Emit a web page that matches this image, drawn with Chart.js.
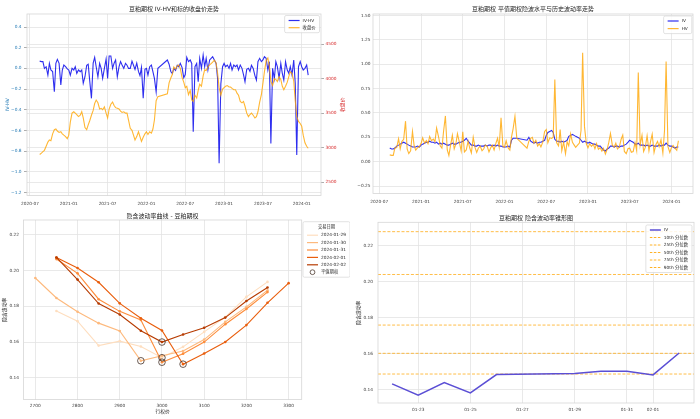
<!DOCTYPE html>
<html>
<head>
<meta charset="utf-8">
<script src="https://cdn.jsdelivr.net/npm/chart.js@4.4.1/dist/chart.umd.min.js"></script>
<style>
  html, body { margin: 0; padding: 0; background: #fff; }
  #wrap { position: relative; width: 700px; height: 419px; overflow: hidden; }
  canvas { position: absolute; }
</style>
</head>
<body>
<div id="wrap">
  <canvas id="cTL" width="350" height="212" style="left:0;top:0;width:350px;height:212px"></canvas>
  <canvas id="cTR" width="350" height="212" style="left:350px;top:0;width:350px;height:212px"></canvas>
  <canvas id="cBL" width="350" height="213" style="left:0;top:206px;width:350px;height:213px"></canvas>
  <canvas id="cBR" width="350" height="213" style="left:350px;top:206px;width:350px;height:213px"></canvas>
</div>
<script>
// ---- DATA: daily series (sampled), top charts ----
const dates = [
  '2020-08-16', '2020-08-24',
  '2020-09-01', '2020-09-08', '2020-09-16', '2020-09-24', '2020-10-01', '2020-10-08', '2020-10-16', '2020-10-24',
  '2020-11-01', '2020-11-08', '2020-11-16', '2020-11-24', '2020-12-01', '2020-12-08', '2020-12-16', '2020-12-24',
  '2021-01-01', '2021-01-08', '2021-01-16', '2021-01-24', '2021-02-01', '2021-02-08', '2021-02-16', '2021-02-24',
  '2021-03-01', '2021-03-08', '2021-03-16', '2021-03-24', '2021-04-01', '2021-04-08', '2021-04-16', '2021-04-24',
  '2021-05-01', '2021-05-08', '2021-05-16', '2021-05-24', '2021-06-01', '2021-06-08', '2021-06-16', '2021-06-24',
  '2021-07-01', '2021-07-08', '2021-07-16', '2021-07-24', '2021-08-01', '2021-08-08', '2021-08-16', '2021-08-24',
  '2021-09-01', '2021-09-08', '2021-09-16', '2021-09-24', '2021-10-01', '2021-10-08', '2021-10-16', '2021-10-24',
  '2021-11-01', '2021-11-08', '2021-11-16', '2021-11-24', '2021-12-01', '2021-12-08', '2021-12-16', '2021-12-24',
  '2022-01-01', '2022-01-08', '2022-01-16', '2022-01-24', '2022-02-01', '2022-02-08', '2022-02-16', '2022-02-24',
  '2022-04-08', '2022-04-16', '2022-04-24', '2022-05-01', '2022-05-08', '2022-05-16', '2022-05-24',
  '2022-06-01', '2022-06-08', '2022-06-16', '2022-06-24', '2022-07-01', '2022-07-08', '2022-07-16', '2022-07-24',
  '2022-08-01', '2022-08-08', '2022-08-16', '2022-08-24', '2022-09-01', '2022-09-08', '2022-09-16', '2022-09-24',
  '2022-10-01', '2022-10-08', '2022-10-16', '2022-10-24', '2022-11-01', '2022-11-08', '2022-11-16', '2022-11-24',
  '2022-12-01', '2022-12-08', '2022-12-16', '2022-12-24',
  '2023-01-01', '2023-01-08', '2023-01-16', '2023-01-24', '2023-02-01', '2023-02-08', '2023-02-16', '2023-02-24',
  '2023-03-01', '2023-03-08', '2023-03-16', '2023-03-24', '2023-04-01', '2023-04-08', '2023-04-16', '2023-04-24',
  '2023-05-01', '2023-05-08', '2023-05-16', '2023-05-24', '2023-06-01', '2023-06-08', '2023-06-16', '2023-06-24',
  '2023-07-01', '2023-07-08', '2023-07-16', '2023-07-24', '2023-08-01', '2023-08-08', '2023-08-16', '2023-08-24',
  '2023-09-01', '2023-09-08', '2023-09-16', '2023-09-24', '2023-10-01', '2023-10-08', '2023-10-16', '2023-10-24',
  '2023-11-01', '2023-11-08', '2023-11-16', '2023-11-24', '2023-12-01', '2023-12-08', '2023-12-16', '2023-12-24',
  '2024-01-01', '2024-01-08', '2024-01-16', '2024-01-24', '2024-02-01'
];

const ivData = [
  0.14, 0.13,
  0.13, 0.14, 0.16, 0.17,  0.18, 0.19, 0.20, 0.19,
  0.18, 0.17, 0.16, 0.15,  0.15, 0.15, 0.16, 0.15,
  0.17, 0.18, 0.19, 0.20,  0.20, 0.21, 0.20, 0.20,
  0.19, 0.20, 0.18, 0.19,  0.18, 0.19, 0.18, 0.17,
  0.17, 0.18, 0.19, 0.18,  0.18, 0.19, 0.20, 0.20,
  0.21, 0.22, 0.24, 0.21,  0.19, 0.17, 0.17, 0.16,
  0.16, 0.17, 0.16, 0.16,  0.16, 0.17, 0.16, 0.17,
  0.17, 0.16, 0.17, 0.16,  0.17, 0.16, 0.16, 0.15,
  0.15, 0.15, 0.16, 0.15,  0.22, 0.24, 0.24, 0.24,
  0.22, 0.25, 0.21,        0.20, 0.19, 0.20, 0.19,
  0.20, 0.20, 0.21, 0.22,  0.27, 0.30, 0.31, 0.32,
  0.30, 0.23, 0.21, 0.21,  0.20, 0.21, 0.20, 0.21,
  0.22, 0.26, 0.27, 0.28,  0.27, 0.26, 0.25, 0.24,
  0.22, 0.20, 0.21, 0.20,
  0.19, 0.20, 0.19, 0.18,  0.18, 0.17, 0.16, 0.16,
  0.14, 0.12, 0.11, 0.13,  0.14, 0.16, 0.16, 0.15,
  0.16, 0.16, 0.15, 0.16,  0.16, 0.17, 0.18, 0.20,
  0.22, 0.21, 0.20, 0.18,  0.18, 0.19, 0.17, 0.17,
  0.17, 0.16, 0.17, 0.16,  0.16, 0.17, 0.16, 0.16,
  0.16, 0.17, 0.16, 0.17,  0.17, 0.19, 0.17, 0.16,
  0.16, 0.15, 0.14, 0.15,  0.15
];

const hvData = [
  0.070, 0.065,
  0.065, 0.140, 0.144, 0.235,  0.132, 0.206, 0.230, 0.416,
  0.132, 0.083, 0.112, 0.311,  0.166, 0.118, 0.144, 0.155,
  0.186, 0.245, 0.190, 0.216,  0.184, 0.258, 0.216, 0.232,
  0.206, 0.345, 0.261, 0.160,  0.140, 0.310, 0.470, 0.120,
  0.064, 0.164, 0.271, 0.132,  0.180, 0.287, 0.200, 0.110,
  0.307, 0.100, 0.120, 0.210,  0.140, 0.089, 0.251, 0.144,
  0.095, 0.138, 0.160, 0.112,  0.130, 0.170, 0.160, 0.100,
  0.140, 0.170, 0.120, 0.190,  0.240, 0.150, 0.450, 0.160,
  0.150, 0.215, 0.144, 0.118,  0.252, 0.337, 0.466, 0.240,
  0.139, 0.210, 0.240,         0.250, 0.190, 0.220, 0.160,
  0.184, 0.152, 0.200, 0.310,  0.330, 0.194, 0.245, 0.239,
  0.252, 0.843, 0.194, 0.162,  0.329, 0.113, 0.200, 0.081,
  0.204, 0.163, 0.286, 0.199,  0.173, 0.147, 0.169, 0.192,
  0.320, 1.119, 0.360, 0.184,
  0.142, 0.184, 0.158, 0.180,  0.132, 0.186, 0.128, 0.144,
  0.108, 0.136, 0.078, 0.130,  0.200, 0.289, 0.170, 0.150,
  0.190, 0.130, 0.150, 0.230,  0.273, 0.105, 0.083, 0.135,
  0.139, 0.097, 0.103, 0.196,  0.115, 0.916, 0.170, 0.270,
  0.105, 0.144, 0.267, 0.112,  0.208, 0.283, 0.095, 0.176,
  0.208, 0.154, 0.225, 0.089,  0.315, 1.029, 0.154, 0.095,
  0.144, 0.166, 0.140, 0.118,  0.215
];

const closeData = [
  2900, 2920,
  2940, 2960, 3020, 3080,  3110, 3100, 3200, 3260,
  3270, 3240, 3220, 3230,  3200, 3180, 3160, 3130,
  3180, 3370, 3500, 3520,  3500, 3480, 3450, 3470,
  3520, 3430, 3290, 3260,  3330, 3390, 3470, 3540,
  3640, 3690, 3650, 3560,  3570, 3550, 3590, 3500,
  3430, 3560, 3630, 3660,  3610, 3580, 3570, 3560,
  3530, 3510, 3520, 3500,  3500, 3400, 3280, 3250,
  3180, 3110, 3160, 3230,  3160, 3090, 3150, 3200,
  3230, 3190, 3230, 3210,  3270, 3400, 3680, 3740,
  3780, 3940, 4010,        4060, 4170, 4140, 4190,
  4200, 4150, 4020, 3950,  3870, 3890, 3770, 3830,
  3690, 3670, 3760, 3720,  3830, 3920, 3890, 4040,
  4130, 4120, 4170, 4200,  4220, 4240, 4270, 4230,
  4080, 3870, 3760, 3850,
  3870, 3890, 3900, 3880,  3880, 3860, 3840, 3840,
  3790, 3760, 3670, 3650,  3670, 3600, 3500, 3450,
  3480, 3500, 3470, 3430,  3450, 3520, 3660, 3770,
  3930, 4100, 4260, 4300,  4180, 3960, 3900, 4000,
  3990, 3960, 4030, 3990,  3890, 3840, 3890, 3950,
  4030, 4100, 4080, 3970,  3680, 3450, 3380, 3350,
  3310, 3180, 3070, 3020,  2990
];

const dateTickLabels = ['2020-07', '2021-01', '2021-07', '2022-01', '2022-07', '2023-01', '2023-07', '2024-01'];
const ivhvTicks = [-1.2, -1.0, -0.8, -0.6, -0.4, -0.2, 0.0, 0.2, 0.4];
const closeTicks = [2500, 3000, 3500, 4000, 4500];
const volTicks = [-0.25, 0.0, 0.25, 0.5, 0.75, 1.0, 1.25, 1.5];

// ---- DATA: smile (bottom left) ----
const smileDates = ['2024-01-29', '2024-01-30', '2024-01-31', '2024-02-01', '2024-02-02'];
const smileStrikes = [
  [2750, 2800, 2850, 2900, 2950, 3000, 3050, 3100, 3150, 3200, 3250],
  [2700, 2750, 2800, 2850, 2900, 2950, 3000, 3050, 3100, 3150, 3200, 3250],
  [2750, 2800, 2850, 2900, 2950, 3000, 3050, 3100, 3150, 3200, 3250],
  [2750, 2800, 2850, 2900, 2950, 3000, 3050, 3100, 3150, 3200, 3250, 3300],
  [2750, 2800, 2850, 2900, 2950, 3000, 3050, 3100, 3150, 3200, 3250]
];
const smileIV = [
  [0.1774, 0.1717, 0.1580, 0.1605, 0.1575, 0.1512, 0.1573, 0.1657, 0.1740, 0.1853, 0.1937],
  [0.1959, 0.1847, 0.1770, 0.1706, 0.1662, 0.1495, 0.1523, 0.1550, 0.1614, 0.1713, 0.1797, 0.1890],
  [0.2065, 0.1985, 0.1840, 0.1772, 0.1724, 0.1487, 0.1535, 0.1600, 0.1700, 0.1785, 0.1880],
  [0.2074, 0.2015, 0.1935, 0.1817, 0.1733, 0.1665, 0.1476, 0.1536, 0.1600, 0.1695, 0.1820, 0.1930],
  [0.2074, 0.1950, 0.1816, 0.1754, 0.1663, 0.1600, 0.1642, 0.1680, 0.1737, 0.1830, 0.1906]
];
const atmStrike = [3000, 2950, 3000, 3050, 3000];
const strikeTicks = [2700, 2800, 2900, 3000, 3100, 3200, 3300];
const smileTicks = [0.14, 0.16, 0.18, 0.20, 0.22];

// ---- DATA: IV cone (bottom right) ----
const coneDates = ['2024-01-22', '2024-01-23', '2024-01-24', '2024-01-25', '2024-01-26',
                   '2024-01-29', '2024-01-30', '2024-01-31', '2024-02-01', '2024-02-02'];
const coneIV = [0.1432, 0.1369, 0.1439, 0.1382, 0.1484, 0.1490, 0.1502, 0.1502, 0.1482, 0.1604];
const quantLabels = ['10th 分位数', '25th 分位数', '50th 分位数', '75th 分位数', '90th 分位数'];
const quantValues = [0.1487, 0.1602, 0.1759, 0.2040, 0.2278];
const coneTickLabels = ['01-23', '01-25', '01-27', '01-29', '01-31', '02-01'];
const coneYTicks = [0.14, 0.16, 0.18, 0.20, 0.22];

// ---- helpers ----
const FONT = "'DejaVu Sans', 'Noto Sans CJK SC', sans-serif";
Chart.defaults.font.family = FONT;
Chart.defaults.font.size = 4.3;
Chart.defaults.color = '#3a3a3a';

const toMonth = s => { const [y, m, d] = s.split('-').map(Number); return (y - 2020) * 12 + (m - 1) + (d - 1) / 30; };
const toDay = s => { const [y, m, d] = s.split('-').map(Number); return (Date.UTC(y, m - 1, d) - Date.UTC(2024, 0, 0)) / 864e5; };
const fmt = (v, n) => (v < -1e-9 ? '\u2212' : '') + Math.abs(v).toFixed(n);
const series = vals => dates.map((d, i) => ({ x: toMonth(d), y: vals[i] }));
const fixedTicks = values => scale => { scale.ticks = values.map(v => ({ value: v })); };
const grid = extra => Object.assign({ color: '#e3e3e3', lineWidth: 0.8, drawTicks: false }, extra || {});

const ivhvData = ivData.map((v, i) => v - hvData[i]);

const BLUE = 'rgba(0,0,235,0.82)';
const ORANGE = 'rgba(255,165,0,0.8)';
const smileColors = ['#fedebf', '#fdb97d', '#fd8d3c', '#e95e0d', '#b73c02'];

function drawLegend(ctx, a, L) {
  const row = L.row || 7.4;
  ctx.font = `4.3px ${FONT}`;
  const textW = Math.max(...L.items.map(it => ctx.measureText(it.label).width));
  const titleW = L.title ? ctx.measureText(L.title).width + 8 : 0;
  const w = Math.max(18 + textW + 4, titleW);
  const head = L.title ? 13.5 : 5;
  const h = head + (L.items.length - 1) * row + 5;
  const x = L.outside ? a.right + L.dx : a.right - L.dx - w;
  const y = a.top + L.dy;
  ctx.fillStyle = 'rgba(255,255,255,0.85)';
  ctx.strokeStyle = '#d6d6d6';
  ctx.lineWidth = 0.7;
  ctx.beginPath();
  if (ctx.roundRect) ctx.roundRect(x, y, w, h, 1.5); else ctx.rect(x, y, w, h);
  ctx.fill(); ctx.stroke();
  ctx.textBaseline = 'middle';
  if (L.title) {
    ctx.fillStyle = '#262626'; ctx.textAlign = 'center';
    ctx.fillText(L.title, x + w / 2, y + 4.8);
  }
  ctx.textAlign = 'left';
  L.items.forEach((it, i) => {
    const cy = y + head + i * row;
    ctx.beginPath();
    if (it.ring) {
      ctx.arc(x + 9.5, cy, 2.4, 0, Math.PI * 2);
      ctx.strokeStyle = it.color; ctx.lineWidth = 0.9; ctx.stroke();
    } else {
      ctx.setLineDash(it.dash || []);
      ctx.moveTo(x + 4, cy); ctx.lineTo(x + 15, cy);
      ctx.strokeStyle = it.color; ctx.lineWidth = it.width || 1; ctx.stroke();
      ctx.setLineDash([]);
    }
    ctx.fillStyle = '#262626';
    ctx.fillText(it.label, x + 18, cy);
  });
}

function decor(cfg) {
  return {
    id: 'decor',
    afterDraw(chart) {
      const { ctx, chartArea: a } = chart;
      ctx.save();
      ctx.strokeStyle = '#d6d6d6'; ctx.lineWidth = 0.8;
      ctx.strokeRect(a.left, a.top, a.right - a.left, a.bottom - a.top);
      ctx.textAlign = 'center'; ctx.textBaseline = 'middle';
      ctx.fillStyle = '#262626';
      ctx.font = `6px ${FONT}`;
      ctx.fillText(cfg.title, (a.left + a.right) / 2, a.top - cfg.titleGap);
      (cfg.axisTitles || []).forEach(t => {
        ctx.save();
        ctx.fillStyle = t.color || '#262626';
        ctx.font = `4.8px ${FONT}`;
        if (t.side === 'bottom') {
          ctx.fillText(t.text, (a.left + a.right) / 2, a.bottom + t.gap);
        } else {
          const x = t.side === 'left' ? a.left - t.gap : a.right + t.gap;
          ctx.translate(x, (a.top + a.bottom) / 2);
          ctx.rotate(-Math.PI / 2);
          ctx.fillText(t.text, 0, 0);
        }
        ctx.restore();
      });
      if (cfg.legend) drawLegend(ctx, a, cfg.legend);
      ctx.restore();
    }
  };
}

const base = {
  responsive: false, animation: false, devicePixelRatio: 1,
  elements: { line: { tension: 0 }, point: { radius: 0 } },
  plugins: { legend: { display: false }, tooltip: { enabled: false } }
};

function timeAxis(min, max, h, pad) {
  return {
    type: 'linear', min, max,
    afterFit: s => { s.height = h; },
    afterBuildTicks: fixedTicks(dateTickLabels.map(l => toMonth(l + '-01'))),
    border: { display: false },
    grid: grid(),
    ticks: { padding: pad, maxRotation: 0, autoSkip: false, callback: (v, i) => dateTickLabels[i] }
  };
}

// ---- 1. IV-HV & close ----
new Chart(document.getElementById('cTL'), {
  type: 'line',
  data: { datasets: [
    { label: 'IV-HV', data: series(ivhvData), yAxisID: 'y', borderColor: BLUE, borderWidth: 1.1, order: 1 },
    { label: '收盘价', data: series(closeData), yAxisID: 'y1', borderColor: ORANGE, borderWidth: 1.1, order: 0 }
  ]},
  options: Object.assign({}, base, {
    layout: { padding: { top: 14, right: 0, left: 0, bottom: 0 } },
    scales: {
      x: timeAxis(5.54, 50.98, 16.5, 5.8),
      y: {
        position: 'left', min: -1.23, max: 0.526,
        afterFit: s => { s.width = 27; },
        afterBuildTicks: fixedTicks(ivhvTicks),
        border: { display: false },
        grid: grid({ drawTicks: true, tickLength: 3, tickColor: '#999' }),
        ticks: { color: '#1f77b4', padding: 2.5, callback: v => fmt(v, 1) }
      },
      y1: {
        position: 'right', min: 2304, max: 4940,
        afterFit: s => { s.width = 29; },
        afterBuildTicks: fixedTicks(closeTicks),
        border: { display: false },
        grid: grid({ drawTicks: true, tickLength: 3, tickColor: '#999' }),
        ticks: { color: '#d62728', padding: 1.5, callback: v => String(v) }
      }
    }
  }),
  plugins: [decor({
    title: '豆粕期权 IV-HV和标的收盘价走势', titleGap: 5,
    axisTitles: [
      { side: 'left', text: 'IV-HV', gap: 19.5, color: '#1f77b4' },
      { side: 'right', text: '收盘价', gap: 22, color: '#d62728' }
    ],
    legend: { dx: 1.5, dy: 1.5, row: 7.2, items: [
      { label: 'IV-HV', color: BLUE, width: 1.2 },
      { label: '收盘价', color: ORANGE, width: 1.2 }
    ]}
  })]
});

// ---- 2. ATM IV vs HV ----
new Chart(document.getElementById('cTR'), {
  type: 'line',
  data: { datasets: [
    { label: 'IV', data: series(ivData), borderColor: BLUE, borderWidth: 1.1, order: 1 },
    { label: 'HV', data: series(hvData), borderColor: ORANGE, borderWidth: 1.1, order: 0 }
  ]},
  options: Object.assign({}, base, {
    layout: { padding: { top: 14, right: 7, left: 0, bottom: 0 } },
    scales: {
      x: timeAxis(5.09, 51.1, 18.5, 5.6),
      y: {
        min: -0.327, max: 1.517,
        afterFit: s => { s.width = 23; },
        afterBuildTicks: fixedTicks(volTicks),
        border: { display: false },
        grid: grid(),
        ticks: { padding: 2.5, callback: v => fmt(v, 2) }
      }
    }
  }),
  plugins: [decor({
    title: '豆粕期权 平值期权隐波水平与历史波动率走势', titleGap: 4.7,
    legend: { dx: 1.2, dy: 2, row: 7.6, items: [
      { label: 'IV', color: BLUE, width: 1.2 },
      { label: 'HV', color: ORANGE, width: 1.2 }
    ]}
  })]
});

// ---- 3. smile ----
const smileSets = smileDates.map((d, k) => ({
  label: d,
  data: smileStrikes[k].map((s, i) => ({ x: s, y: smileIV[k][i] })),
  borderColor: smileColors[k], borderWidth: 1.1,
  pointRadius: 1.3, pointBorderWidth: 0, pointBackgroundColor: smileColors[k],
  order: 4 - k
}));
const atmSet = {
  label: '平值期权',
  data: atmStrike.map((s, k) => ({ x: s, y: smileIV[k][smileStrikes[k].indexOf(s)] })),
  showLine: false, pointRadius: 3.3, pointBorderWidth: 1,
  pointBorderColor: 'rgba(70,50,40,0.8)', pointBackgroundColor: 'rgba(0,0,0,0)',
  order: -1
};
new Chart(document.getElementById('cBL'), {
  type: 'line',
  data: { datasets: smileSets.concat([atmSet]) },
  options: Object.assign({}, base, {
    layout: { padding: { top: 14, right: 48.3, left: 0, bottom: 0 } },
    scales: {
      x: {
        type: 'linear', min: 2672, max: 3331,
        afterFit: s => { s.height = 19.5; },
        afterBuildTicks: fixedTicks(strikeTicks),
        border: { display: false },
        grid: grid(),
        ticks: { padding: 4, maxRotation: 0, autoSkip: false, callback: v => String(v) }
      },
      y: {
        min: 0.1278, max: 0.2284,
        afterFit: s => { s.width = 23.5; },
        afterBuildTicks: fixedTicks(smileTicks),
        border: { display: false },
        grid: grid(),
        ticks: { padding: 4.5, callback: v => v.toFixed(2) }
      }
    }
  }),
  plugins: [decor({
    title: '隐含波动率曲线 - 豆粕期权', titleGap: 4,
    axisTitles: [
      { side: 'left', text: '隐含波动率', gap: 18.5 },
      { side: 'bottom', text: '行权价', gap: 12.5 }
    ],
    legend: { outside: true, dx: 1.3, dy: 1.7, title: '交易日期', row: 7.4,
      items: smileDates.map((d, k) => ({ label: d, color: smileColors[k], width: 1.2 }))
        .concat([{ label: '平值期权', color: 'rgba(70,50,40,0.85)', ring: true }]) }
  })]
});

// ---- 4. IV cone ----
const coneXMin = 21.46, coneXMax = 33.57;
const quantSets = quantValues.map((q, k) => ({
  label: quantLabels[k],
  data: [{ x: coneXMin, y: q }, { x: coneXMax, y: q }],
  borderColor: 'rgba(255,165,0,0.8)', borderWidth: 0.9, borderDash: [3, 1.7], order: 1
}));
new Chart(document.getElementById('cBR'), {
  type: 'line',
  data: { datasets: [
    { label: 'IV', data: coneDates.map((d, i) => ({ x: toDay(d), y: coneIV[i] })),
      borderColor: '#5b4fd5', borderWidth: 1.5, order: 0 }
  ].concat(quantSets) },
  options: Object.assign({}, base, {
    layout: { padding: { top: 16.3, right: 6, left: 0, bottom: 0 } },
    scales: {
      x: {
        type: 'linear', min: coneXMin, max: coneXMax,
        afterFit: s => { s.height = 16; },
        afterBuildTicks: fixedTicks(coneTickLabels.map(l => toDay('2024-' + l))),
        border: { display: false },
        grid: grid(),
        ticks: { padding: 4.6, maxRotation: 0, autoSkip: false, callback: (v, i) => coneTickLabels[i] }
      },
      y: {
        min: 0.1326, max: 0.233,
        afterFit: s => { s.width = 28; },
        afterBuildTicks: fixedTicks(coneYTicks),
        border: { display: false },
        grid: grid(),
        ticks: { padding: 5, callback: v => v.toFixed(2) }
      }
    }
  }),
  plugins: [decor({
    title: '豆粕期权 隐含波动率锥形图', titleGap: 4,
    axisTitles: [{ side: 'left', text: '隐含波动率', gap: 19 }],
    legend: { dx: 2, dy: 2.7, row: 7.5, items: [{ label: 'IV', color: '#5b4fd5', width: 1.5 }]
      .concat(quantLabels.map(l => ({ label: l, color: 'rgba(255,165,0,0.85)', width: 1, dash: [2.5, 1.5] }))) }
  })]
});
</script>
</body>
</html>
